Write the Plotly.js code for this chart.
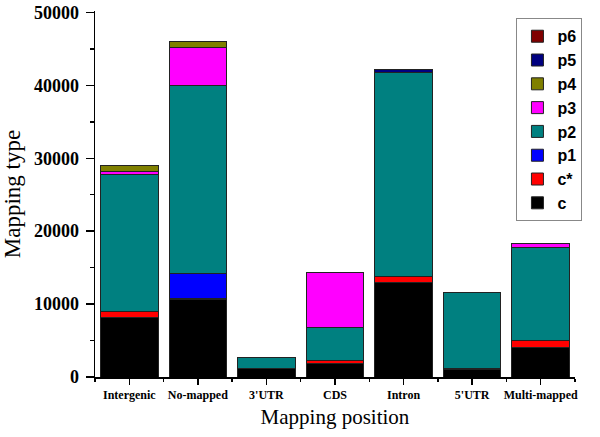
<!DOCTYPE html>
<html>
<head>
<meta charset="utf-8">
<script src="https://cdn.plot.ly/plotly-3.0.1.min.js"></script>
<style>html,body{margin:0;padding:0;background:#fff;}#chart{width:600px;height:437px;}</style>
</head>
<body>
<div id="chart"></div>
<script>
const categories = ['Intergenic', 'No-mapped', "3'UTR", 'CDS', 'Intron', "5'UTR", 'Multi-mapped'];
const seriesNames = ['c', 'c*', 'p1', 'p2', 'p3', 'p4', 'p5', 'p6'];
const c     = [8200, 10600, 1150, 1800, 12900, 1000, 4000];
const cStar = [750, 150, null, 400, 900, 150, 1050];
const p1    = [null, 3500, null, null, null, null, null];
const p2    = [18800, 25800, 1500, 4650, 28000, 10500, 12650];
const p3    = [500, 5100, null, 7450, null, null, 550];
const p4    = [750, 900, null, null, null, null, null];
const p5    = [null, null, null, null, 400, null, null];
const p6    = [null, null, null, null, null, null, null];
const seriesValues = [c, cStar, p1, p2, p3, p4, p5, p6];
const colors = ['#000000', '#ff0000', '#0000ff', '#008080', '#ff00ff', '#808000', '#000080', '#800000'];
const yTicks = [0, 10000, 20000, 30000, 40000, 50000];
const yTickText = ['0', '10000', '20000', '30000', '40000', '50000'];

const xIdx = categories.map((_, i) => i);
const traces = seriesNames.map((name, k) => ({
  type: 'bar',
  name: name,
  x: xIdx,
  y: seriesValues[k],
  marker: { color: colors[k], line: { color: '#222', width: 1 } },
  width: 0.84
}));

const serif = 'Liberation Serif, Times New Roman, serif';
const layout = {
  width: 600, height: 437,
  margin: { l: 95, r: 25, t: 11, b: 60 },
  barmode: 'stack',
  paper_bgcolor: '#fff', plot_bgcolor: '#fff',
  showlegend: true,
  legend: {
    x: 0.878, y: 0.98, xanchor: 'left', yanchor: 'top',
    traceorder: 'reversed',
    bgcolor: '#fff', bordercolor: '#888', borderwidth: 1,
    font: { family: 'Liberation Sans, Arial, sans-serif', size: 16, color: '#000', weight: 'bold' },
    tracegroupgap: 0, itemwidth: 30
  },
  xaxis: {
    range: [-0.5, 6.5],
    tickmode: 'array', tickvals: xIdx, ticktext: categories,
    ticks: 'outside', ticklen: 6, tickwidth: 1.5, tickcolor: '#000',
    minor: { tick0: 0.5, dtick: 1, ticks: 'outside', ticklen: 3, tickwidth: 1.5, tickcolor: '#000' },
    showline: true, linecolor: '#000', linewidth: 1.5,
    showgrid: false, zeroline: false,
    ticklabeloverflow: 'allow',
    tickfont: { family: serif, size: 12, color: '#000', weight: 'bold' },
    title: { text: 'Mapping position', font: { family: serif, size: 21, color: '#000' }, standoff: 8 }
  },
  yaxis: {
    range: [0, 50200],
    tickmode: 'array', tickvals: yTicks, ticktext: yTickText,
    ticks: 'outside', ticklen: 8, tickwidth: 1.5, tickcolor: '#000',
    ticklabelstandoff: 3,
    minor: { tickmode: 'linear', tick0: 0, dtick: 5000, ticks: 'outside', ticklen: 4, tickwidth: 1.5, tickcolor: '#000' },
    showline: true, linecolor: '#000', linewidth: 1.5,
    showgrid: false, zeroline: false,
    ticklabeloverflow: 'allow',
    tickfont: { family: serif, size: 18, color: '#000', weight: 'bold' },
    title: { text: 'Mapping type', font: { family: serif, size: 23, color: '#000' }, standoff: 8 }
  }
};

Plotly.newPlot('chart', traces, layout, { displayModeBar: false, staticPlot: true });
</script>
</body>
</html>
